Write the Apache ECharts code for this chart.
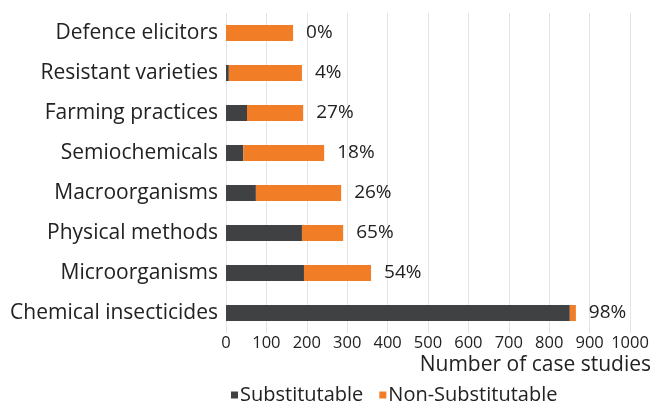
<!DOCTYPE html>
<html>
<head>
<meta charset="utf-8">
<script src="https://cdn.jsdelivr.net/npm/echarts@6/dist/echarts.min.js"></script>
<style>html,body{margin:0;padding:0;background:#fff}#c{width:654px;height:403px}</style>
</head>
<body>
<div id="c"></div>
<script>
const categories = ["Defence elicitors","Resistant varieties","Farming practices","Semiochemicals","Macroorganisms","Physical methods","Microorganisms","Chemical insecticides"];
const substitutable = [0, 7, 52, 43, 74, 188, 193, 851];
const nonSubstitutable = [166, 181, 139, 200, 211, 102, 166, 15];
const percentLabels = ["0%","4%","27%","18%","26%","65%","54%","98%"];
const xTicks = [0,100,200,300,400,500,600,700,800,900,1000];
const xAxisTitle = 'Number of case studies';

const FONT = "Open Sans";
const chart = echarts.init(document.getElementById('c'), null, {renderer:'canvas'});
chart.setOption({
  animation: false,
  textStyle: {fontFamily: FONT},
  title: {
    text: xAxisTitle, right: 3, top: 355, padding: 0,
    textStyle: {fontFamily: FONT, fontSize: 21, fontWeight: 'normal', color: '#222'}
  },
  grid: {left: 226, right: 24, top: 13, height: 320, containLabel: false, outerBoundsMode: 'none'},
  legend: {
    top: 380, left: 226,
    itemWidth: 7, itemHeight: 7, itemGap: 16,
    icon: 'rect',
    textStyle: {fontFamily: FONT, fontSize: 20, color: '#222', padding: [0,0,0,-3]},
    data: ['Substitutable','Non-Substitutable']
  },
  xAxis: {
    type: 'value', min: xTicks[0], max: xTicks[xTicks.length-1], interval: 100,
    axisLine: {show: false}, axisTick: {show: false},
    splitLine: {show: true, lineStyle: {color: '#e3e3e3', width: 1}},
    axisLabel: {fontFamily: FONT, fontSize: 16.5, color: '#222', margin: 2, hideOverlap: false, formatter: v => String(v)}
  },
  yAxis: {
    type: 'category', data: categories, inverse: true,
    axisLine: {show: false}, axisTick: {show: false},
    axisLabel: {fontFamily: FONT, fontSize: 21, color: '#222', margin: 8}
  },
  series: [
    {name: 'Substitutable', type: 'bar', stack: 's', data: substitutable, barWidth: '40%',
     itemStyle: {color: '#3f4143'}},
    {name: 'Non-Substitutable', type: 'bar', stack: 's', data: nonSubstitutable, barWidth: '40%',
     itemStyle: {color: '#f17e26'},
     label: {show: true, position: 'right', distance: 13, fontFamily: FONT, fontSize: 19, color: '#222',
       formatter: p => percentLabels[p.dataIndex]}}
  ]
});
</script>
</body>
</html>
